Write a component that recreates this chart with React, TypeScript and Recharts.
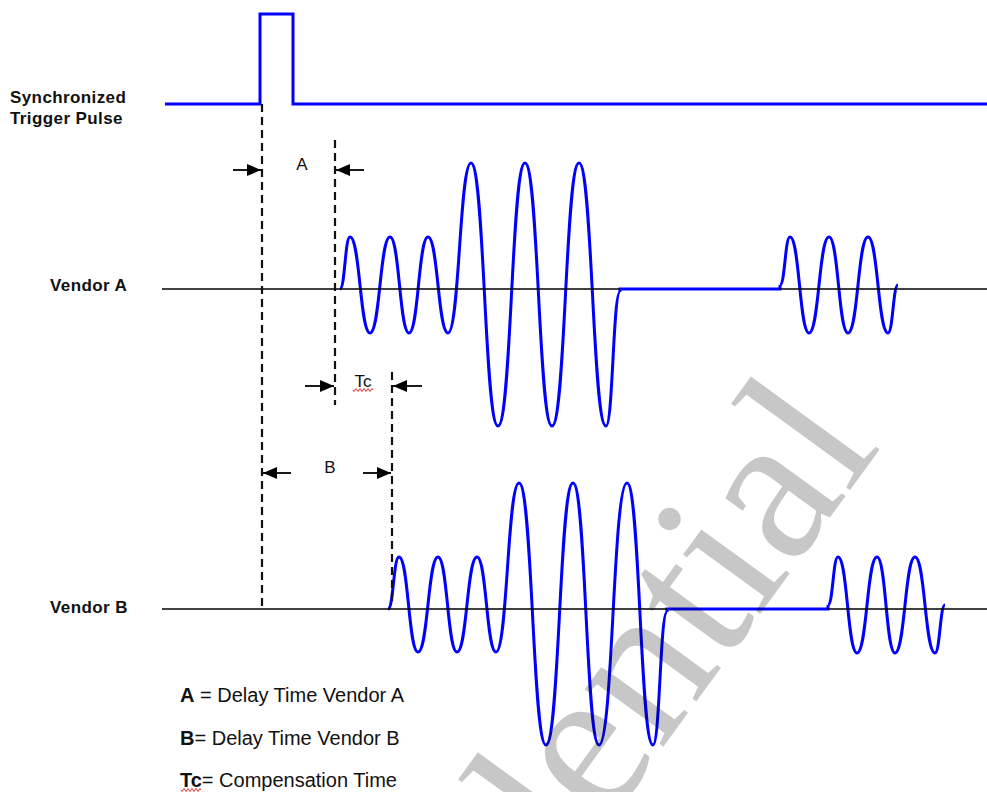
import { Line, LineChart, XAxis, YAxis } from "recharts";

const W = 987;
const H = 792;

// time axis runs left→right, level axis top→bottom (reversed y)
const triggerTime = [165, 260, 260, 293, 293, 987];
const triggerLevel = [104, 104, 14, 14, 104, 104];

// Vendor A: first burst (peaks and troughs), hold, second burst
const burstA1Time = [340, 350, 370, 390, 409, 428, 448, 471, 498, 525, 552, 579, 606, 620];
const burstA1Level = [289, 237, 333, 237, 333, 237, 333, 163, 426, 163, 426, 163, 426, 292];
const holdATime = [620, 620, 780, 780];
const holdALevel = [292, 289, 289, 285];
const burstA2Time = [780, 790, 809, 829, 848, 868, 888, 898];
const burstA2Level = [285, 237, 333, 237, 333, 237, 333, 285];

// Vendor B
const burstB1Time = [388, 399, 418, 438, 457, 477, 496, 519, 546, 573, 599, 627, 653, 667];
const burstB1Level = [609, 557, 652, 557, 652, 557, 652, 483, 745, 483, 745, 483, 745, 612];
const holdBTime = [667, 667, 828, 828];
const holdBLevel = [612, 609, 609, 605];
const burstB2Time = [828, 838, 857, 877, 895, 915, 935, 945];
const burstB2Level = [605, 557, 653, 557, 653, 557, 653, 605];

// zero lines (skipped where the blue hold covers them)
const axisATime = [[162, 620], [780, 987]];
const axisBTime = [[162, 667], [828, 987]];
const axisALevel = 289;
const axisBLevel = 609;

// dashed markers
const markerTime = [262, 335, 392];
const markerFrom = [104, 140, 372];
const markerTo = [607, 405, 603];

// dimension arrows: A (outside in), Tc (outside in), B (inside out)
const arrowTail = [233, 364, 305, 422, 291, 363];
const arrowTip = [261, 336, 334, 393, 263, 391];
const arrowLevel = [170, 170, 386, 386, 473, 473];

const zip = (t: number[], v: number[]) => t.map((x, i) => ({ t: x, v: v[i] }));

const BLUE = "#0000ff";
const SANS = "'Liberation Sans', Arial, sans-serif";

function ArrowHead(props: any) {
  const { cx, cy, payload, index } = props;
  if (!payload || !payload.dir) return <g key={`n-${index}`} />;
  const d = payload.dir;
  const back = cx - d * 14;
  return (
    <path
      key={`h-${index}`}
      d={`M${cx},${cy} L${back},${cy - 6} L${back},${cy + 6} Z`}
      fill="#000"
      stroke="none"
    />
  );
}

function Squiggle({ x, y, w }: { x: number; y: number; w: number }) {
  let d = `M${x},${y}`;
  for (let i = 0; i * 2 < w; i++) d += ` l1,${i % 2 ? -1.5 : 1.5} l1,${i % 2 ? 1.5 : -1.5}`;
  return <path d={d} fill="none" stroke="#e00000" strokeWidth={0.8} />;
}

export default function App() {
  const blueLine = (data: { t: number; v: number }[], type: "bumpX" | "linear", key: string) => (
    <Line
      key={key}
      data={data}
      dataKey="v"
      type={type}
      stroke={BLUE}
      strokeWidth={3}
      dot={false}
      activeDot={false}
      isAnimationActive={false}
    />
  );

  return (
    <div style={{ position: "absolute", left: 0, top: 0, width: W, height: H, background: "#fff" }}>
      <LineChart width={W} height={H} margin={{ top: 0, right: 0, bottom: 0, left: 0 }}>
        <XAxis dataKey="t" type="number" domain={[0, W]} hide allowDataOverflow />
        <YAxis type="number" domain={[0, H]} reversed hide allowDataOverflow />

        {blueLine(zip(triggerTime, triggerLevel), "linear", "trig")}
        {blueLine(zip(burstA1Time, burstA1Level), "bumpX", "a1")}
        {blueLine(zip(holdATime, holdALevel), "linear", "ah")}
        {blueLine(zip(burstA2Time, burstA2Level), "bumpX", "a2")}
        {blueLine(zip(burstB1Time, burstB1Level), "bumpX", "b1")}
        {blueLine(zip(holdBTime, holdBLevel), "linear", "bh")}
        {blueLine(zip(burstB2Time, burstB2Level), "bumpX", "b2")}

        {axisATime.map((seg, i) => (
          <Line
            key={`ax-a-${i}`}
            data={zip(seg, [axisALevel, axisALevel])}
            dataKey="v"
            type="linear"
            stroke="#000"
            strokeWidth={1.5}
            dot={false}
            activeDot={false}
            isAnimationActive={false}
          />
        ))}
        {axisBTime.map((seg, i) => (
          <Line
            key={`ax-b-${i}`}
            data={zip(seg, [axisBLevel, axisBLevel])}
            dataKey="v"
            type="linear"
            stroke="#000"
            strokeWidth={1.5}
            dot={false}
            activeDot={false}
            isAnimationActive={false}
          />
        ))}

        {markerTime.map((t, i) => (
          <Line
            key={`mk-${i}`}
            data={zip([t, t], [markerFrom[i], markerTo[i]])}
            dataKey="v"
            type="linear"
            stroke="#111"
            strokeWidth={2.2}
            strokeDasharray="8 5"
            dot={false}
            activeDot={false}
            isAnimationActive={false}
          />
        ))}

        {arrowTail.map((t, i) => (
          <Line
            key={`ar-${i}`}
            data={[
              { t, v: arrowLevel[i] },
              { t: arrowTip[i], v: arrowLevel[i], dir: Math.sign(arrowTip[i] - t) },
            ]}
            dataKey="v"
            type="linear"
            stroke="#000"
            strokeWidth={1.8}
            dot={ArrowHead}
            activeDot={false}
            isAnimationActive={false}
          />
        ))}

        <g fontFamily={SANS} fill="#111">
          <text x={10} y={103} fontSize={17} fontWeight="bold" letterSpacing={0.4}>Synchronized</text>
          <text x={10} y={124} fontSize={17} fontWeight="bold" letterSpacing={0.4}>Trigger Pulse</text>
          <text x={50} y={291} fontSize={17} fontWeight="bold" letterSpacing={0.4}>Vendor A</text>
          <text x={50} y={613} fontSize={17} fontWeight="bold" letterSpacing={0.4}>Vendor B</text>

          <text x={302} y={170} fontSize={17} textAnchor="middle">A</text>
          <text x={330} y={473} fontSize={17} textAnchor="middle">B</text>
          <text x={363} y={387} fontSize={17} textAnchor="middle">Tc</text>

          <text x={180} y={702} fontSize={20}>
            <tspan fontWeight="bold">A</tspan> = Delay Time Vendor A
          </text>
          <text x={180} y={745} fontSize={20}>
            <tspan fontWeight="bold">B</tspan>= Delay Time Vendor B
          </text>
          <text x={180} y={787} fontSize={20}>
            <tspan fontWeight="bold">Tc</tspan>= Compensation Time
          </text>
        </g>
        <Squiggle x={353} y={390} w={20} />
        <Squiggle x={181} y={790} w={20} />
      </LineChart>

      <svg
        width={W}
        height={H}
        style={{ position: "absolute", left: 0, top: 0, pointerEvents: "none" }}
      >
        <text
          transform="translate(882 446) rotate(-54)"
          textAnchor="end"
          fontFamily="'Liberation Serif', 'Times New Roman', serif"
          fontSize={212}
          fill="#000"
          fillOpacity={0.22}
        >
          Confidential
        </text>
      </svg>
    </div>
  );
}
